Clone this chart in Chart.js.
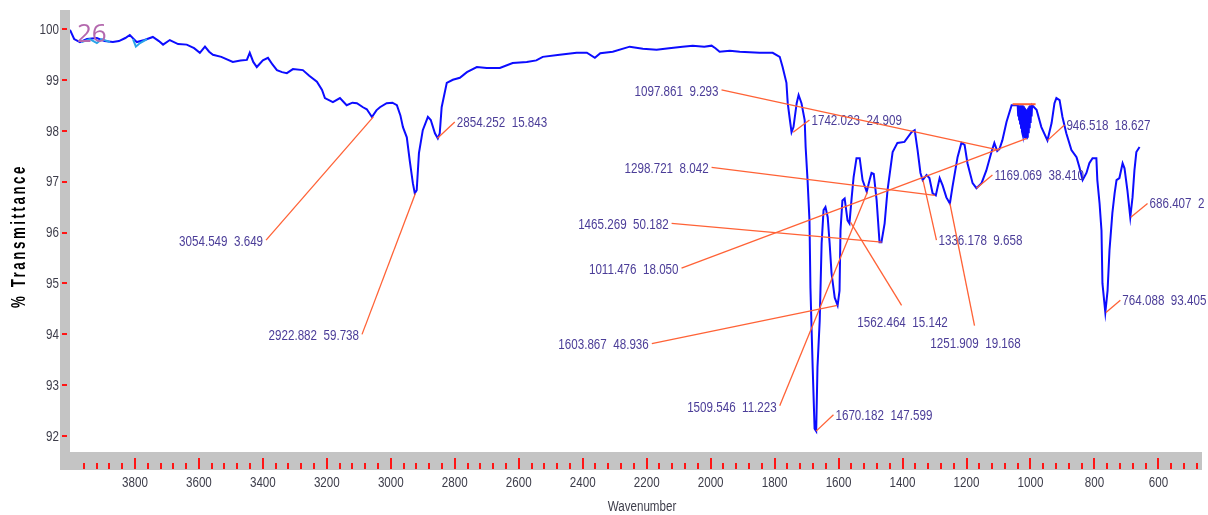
<!DOCTYPE html>
<html>
<head>
<meta charset="utf-8">
<script src="https://cdn.jsdelivr.net/npm/chart.js@4.4.1/dist/chart.umd.min.js"></script>
<style>
  html, body { margin: 0; padding: 0; background: #fff; }
  canvas { display: block; }
</style>
</head>
<body>
<canvas id="ir" width="1208" height="515"></canvas>
<script>
// --- spectrum (wavenumber cm-1 / %T) ---
const wavenumber = [
  4003, 3990, 3972, 3950, 3919, 3895, 3869, 3850, 3830, 3816,
  3794, 3770, 3744, 3725, 3712, 3691, 3665, 3638, 3615, 3597,
  3581, 3568, 3556, 3530, 3494, 3470, 3450, 3441, 3430, 3419,
  3400, 3384, 3370, 3356, 3340, 3325, 3306, 3275, 3255, 3231,
  3215, 3206, 3181, 3159, 3138, 3120, 3106, 3087, 3075, 3059,
  3045, 3034, 3013, 2995, 2981, 2970, 2962, 2950, 2941, 2931,
  2925, 2919, 2912, 2900, 2884, 2875, 2862, 2853, 2847, 2841,
  2825, 2806, 2784, 2762, 2731, 2700, 2659, 2619, 2575, 2545,
  2525, 2472, 2419, 2387, 2362, 2345, 2306, 2253, 2212, 2169,
  2130, 2088, 2056, 2020, 1997, 1985, 1972, 1940, 1909, 1847,
  1806, 1784, 1775, 1763, 1759, 1752, 1747, 1741, 1731, 1725,
  1716, 1706, 1703, 1697, 1691, 1688, 1681, 1675, 1670, 1666,
  1659, 1653, 1647, 1641, 1634, 1628, 1622, 1612, 1603, 1597,
  1594, 1588, 1581, 1572, 1566, 1559, 1553, 1544, 1534, 1525,
  1512, 1503, 1497, 1490, 1481, 1472, 1466, 1456, 1447, 1431,
  1416, 1394, 1372, 1362, 1353, 1344, 1337, 1325, 1316, 1306,
  1296, 1284, 1275, 1263, 1252, 1244, 1228, 1216, 1206, 1197,
  1181, 1169, 1153, 1138, 1122, 1113, 1104, 1097, 1088, 1075,
  1059, 1044, 1040, 1038.5, 1037, 1035.5, 1034, 1032.5, 1031, 1029.5,
  1028, 1026.5, 1025, 1023.5, 1022, 1020.5, 1019, 1017.5, 1016, 1014.5,
  1013, 1011.5, 1010, 1008.5, 1007, 1005.5, 1004, 1002.5, 1001, 999.5,
  998, 996.5, 995, 994, 981, 966, 947, 934, 925, 919,
  909, 900, 888, 872, 856, 847, 837, 825, 816, 806,
  794, 791, 784, 778, 775, 766, 759, 753, 744, 737,
  731, 722, 712, 706, 697, 688, 681, 675, 669, 659
];
const transmittance = [
  99.98, 99.80, 99.74, 99.80, 99.82, 99.76, 99.74, 99.76, 99.82, 99.88,
  99.74, 99.78, 99.84, 99.76, 99.69, 99.78, 99.70, 99.69, 99.62, 99.53,
  99.65, 99.55, 99.49, 99.45, 99.35, 99.38, 99.39, 99.53, 99.35, 99.25,
  99.38, 99.43, 99.30, 99.19, 99.15, 99.13, 99.21, 99.19, 99.08, 98.96,
  98.80, 98.64, 98.56, 98.64, 98.50, 98.55, 98.54, 98.46, 98.42, 98.27,
  98.40, 98.46, 98.54, 98.55, 98.50, 98.30, 98.07, 97.87, 97.42, 96.97,
  96.77, 96.83, 97.56, 98.01, 98.27, 98.21, 97.95, 97.85, 97.95, 98.46,
  98.94, 99.00, 99.04, 99.15, 99.25, 99.23, 99.23, 99.33, 99.35, 99.38,
  99.45, 99.49, 99.53, 99.53, 99.43, 99.52, 99.55, 99.65, 99.61, 99.59,
  99.62, 99.65, 99.67, 99.65, 99.67, 99.62, 99.55, 99.57, 99.55, 99.53,
  99.53, 99.45, 99.25, 98.94, 98.54, 98.20, 97.97, 98.07, 98.54, 98.70,
  98.54, 98.21, 97.68, 97.03, 96.24, 94.92, 93.35, 92.15, 92.10, 93.35,
  94.27, 95.79, 96.44, 96.50, 96.30, 95.79, 95.20, 94.72, 94.57, 94.86,
  96.04, 96.63, 96.67, 96.24, 96.18, 96.69, 97.09, 97.46, 97.46, 97.03,
  96.80, 97.03, 97.17, 97.15, 96.63, 95.81, 95.81, 96.18, 96.83, 97.58,
  97.76, 97.78, 97.97, 98.01, 97.62, 97.17, 97.03, 97.13, 97.07, 96.77,
  96.73, 97.07, 96.93, 96.69, 96.57, 96.89, 97.48, 97.76, 97.72, 97.36,
  96.97, 96.87, 96.97, 97.22, 97.58, 97.76, 97.60, 97.64, 97.81, 98.17,
  98.50, 98.50, 98.50, 98.30, 98.50, 98.22, 98.50, 98.14, 98.50, 98.06,
  98.50, 97.98, 98.50, 97.92, 98.48, 97.88, 98.45, 97.85, 98.42, 97.84,
  98.40, 97.83, 98.42, 97.86, 98.45, 97.95, 98.48, 98.05, 98.50, 98.15,
  98.50, 98.28, 98.50, 98.50, 98.41, 98.07, 97.81, 98.15, 98.54, 98.64,
  98.60, 98.27, 97.95, 97.62, 97.48, 97.28, 97.03, 97.17, 97.36, 97.46,
  97.46, 97.03, 96.57, 96.04, 95.00, 94.43, 94.86, 95.65, 96.38, 96.77,
  97.03, 97.07, 97.36, 97.26, 96.83, 96.30, 96.69, 97.22, 97.58, 97.68
];

// light blue overlay trace at the top left (null = gap)
const overlayWave = [3966, 3941, 3919, 3903, 3878, 3840, 3806, 3797, 3784, 3762];
const overlayTrans = [99.74, 99.80, 99.72, 99.80, 99.74, null, 99.80, 99.65, 99.72, 99.80];

// peak picks
const peakWave = [3054.549, 2922.882, 2854.252, 1742.023, 1670.182, 1603.867, 1562.464, 1509.546, 1465.269,
                  1336.178, 1298.721, 1251.909, 1169.069, 1097.861, 1011.476, 946.518, 764.088, 686.407];
const peakArea = ['3.649', '59.738', '15.843', '24.909', '147.599', '48.936', '15.142', '11.223', '50.182',
                  '9.658', '8.042', '19.168', '38.410', '9.293', '18.050', '18.627', '93.405', '2'];
const peakTrans = [98.27, 96.77, 97.85, 97.97, 92.10, 94.57, 96.20, 96.80, 95.81,
                   97.03, 96.73, 96.57, 96.87, 97.62, 97.85, 97.81, 94.43, 96.30];

const xTickLabels = [3800, 3600, 3400, 3200, 3000, 2800, 2600, 2400, 2200, 2000, 1800, 1600, 1400, 1200, 1000, 800, 600];
const yTickLabels = [92, 93, 94, 95, 96, 97, 98, 99, 100];

// where each peak label sits (axis units) and which side the text goes
const labelSpot = [
  [3390, 95.85, 'left'], [3090, 94.00, 'left'], [2800, 98.17, 'right'], [1691, 98.21, 'right'],
  [1616, 92.42, 'right'], [2184, 93.82, 'left'], [1403, 94.57, 'below'], [1784, 92.60, 'left'],
  [2122, 96.18, 'left'], [1294, 95.85, 'right'], [1997, 97.28, 'left'], [1175, 94.17, 'below'],
  [1119, 97.13, 'right'], [1966, 98.80, 'left'], [2091, 95.30, 'left'], [894, 98.11, 'right'],
  [719, 94.67, 'right'], [634, 96.57, 'right']
];
const markerSpan = [1056, 984];
const markerLevel = 98.52;

const FONT = '14px "Liberation Sans", Arial, sans-serif';
const SQUEEZE = 0.83;   // no narrow face installed, so squeeze Arial-like text
const BLUE = '#0c0cff';
const LEADER = '#ff6236';
const LABEL = '#4b3d98';
const TICKTEXT = '#3d3d4a';

const spectrum = wavenumber.map((w, i) => ({ x: w, y: transmittance[i] }));
const overlay = overlayWave.map((w, i) => ({ x: w, y: overlayTrans[i] }));

function narrowText(ctx, text, x, y, align) {
  ctx.save();
  ctx.translate(x, y);
  ctx.scale(SQUEEZE, 1);
  ctx.textAlign = align;
  ctx.fillText(text, 0, 0);
  ctx.restore();
}

const framePlugin = {
  id: 'frame',
  beforeDatasetsDraw(chart) {
    const { ctx, chartArea: a, scales: { x, y } } = chart;
    ctx.save();
    ctx.fillStyle = '#c4c4c4';
    ctx.fillRect(a.left - 10, a.top, 10, a.bottom - a.top + 18);
    ctx.fillRect(a.left - 10, a.bottom, a.right - a.left + 12, 18);

    // red tick marks on the grey bars
    ctx.strokeStyle = '#ff1414';
    ctx.lineWidth = 2;
    ctx.beginPath();
    for (let w = 3960; w >= x.min; w -= 40) {
      const px = Math.round(x.getPixelForValue(w));
      const top = w % 200 === 0 ? a.bottom + 6 : a.bottom + 11;
      ctx.moveTo(px, top);
      ctx.lineTo(px, a.bottom + 17);
    }
    yTickLabels.forEach(v => {
      const py = Math.round(y.getPixelForValue(v));
      ctx.moveTo(a.left - 8, py);
      ctx.lineTo(a.left - 3, py);
    });
    ctx.stroke();

    // tick labels
    ctx.fillStyle = TICKTEXT;
    ctx.font = FONT;
    ctx.textBaseline = 'middle';
    xTickLabels.forEach(v => narrowText(ctx, String(v), x.getPixelForValue(v), a.bottom + 31, 'center'));
    yTickLabels.forEach(v => narrowText(ctx, String(v), a.left - 11, y.getPixelForValue(v) + 1, 'right'));
    ctx.restore();
  },
  afterDatasetsDraw(chart) {
    const { ctx, chartArea: a, scales: { x, y } } = chart;
    ctx.save();

    // little orange bar over the noisy band near 1010
    ctx.strokeStyle = LEADER;
    ctx.lineWidth = 2;
    ctx.beginPath();
    ctx.moveTo(x.getPixelForValue(markerSpan[0]), y.getPixelForValue(markerLevel));
    ctx.lineTo(x.getPixelForValue(markerSpan[1]), y.getPixelForValue(markerLevel));
    ctx.stroke();

    // leader lines + peak labels
    ctx.lineWidth = 1.3;
    ctx.font = FONT;
    ctx.textBaseline = 'middle';
    peakWave.forEach((w, i) => {
      const [lw, lt, side] = labelSpot[i];
      const sx = x.getPixelForValue(lw), sy = y.getPixelForValue(lt);
      const ex = x.getPixelForValue(w), ey = y.getPixelForValue(peakTrans[i]);
      ctx.strokeStyle = LEADER;
      ctx.beginPath();
      ctx.moveTo(sx, sy);
      ctx.lineTo(ex, ey);
      ctx.stroke();
      const text = w.toFixed(3) + '  ' + peakArea[i];
      ctx.fillStyle = LABEL;
      if (side === 'left') narrowText(ctx, text, sx - 3, sy + 2, 'right');
      else if (side === 'right') narrowText(ctx, text, sx + 2, sy + 1, 'left');
      else narrowText(ctx, text, sx + 1, sy + 18, 'center');
    });

    // sample number
    ctx.fillStyle = '#b469ae';
    ctx.font = '26px "Open Sans", sans-serif';
    ctx.textAlign = 'left';
    ctx.textBaseline = 'alphabetic';
    ctx.fillText('26', a.left + 7, a.top + 32);

    // axis titles
    ctx.fillStyle = TICKTEXT;
    ctx.font = FONT;
    ctx.textBaseline = 'middle';
    narrowText(ctx, 'Wavenumber', (a.left + a.right) / 2 + 7, a.bottom + 55, 'center');

    ctx.translate(19, 236);
    ctx.rotate(-Math.PI / 2);
    ctx.font = 'bold 21px "Liberation Sans", Arial, sans-serif';
    ctx.letterSpacing = '4px';
    ctx.textAlign = 'center';
    const tw = ctx.measureText('% Transmittance').width;
    ctx.scale(144 / tw, 1);
    ctx.fillStyle = '#000';
    ctx.fillText('% Transmittance', 0, 0);
    ctx.restore();
  }
};

new Chart(document.getElementById('ir'), {
  type: 'line',
  data: {
    datasets: [
      { data: overlay, borderColor: '#29a3e8', borderWidth: 2, pointRadius: 0, tension: 0, spanGaps: false },
      { data: spectrum, borderColor: BLUE, borderWidth: 2, pointRadius: 0, tension: 0 }
    ]
  },
  options: {
    responsive: false,
    animation: false,
    devicePixelRatio: 1,
    layout: { padding: { top: 10, right: 8, left: 0, bottom: 0 } },
    plugins: { legend: { display: false }, tooltip: { enabled: false } },
    scales: {
      x: {
        type: 'linear',
        reverse: true,
        min: 470,
        max: 4003,
        grid: { display: false, drawTicks: false },
        border: { display: false },
        afterBuildTicks: s => { s.ticks = xTickLabels.map(v => ({ value: v })); },
        afterFit: s => { s.height = 63; },
        ticks: { display: false }
      },
      y: {
        min: 91.69,
        max: 100.37,
        grid: { display: false, drawTicks: false },
        border: { display: false },
        afterBuildTicks: s => { s.ticks = yTickLabels.map(v => ({ value: v })); },
        afterFit: s => { s.width = 70; },
        ticks: { display: false }
      }
    }
  },
  plugins: [framePlugin]
});
</script>
</body>
</html>
